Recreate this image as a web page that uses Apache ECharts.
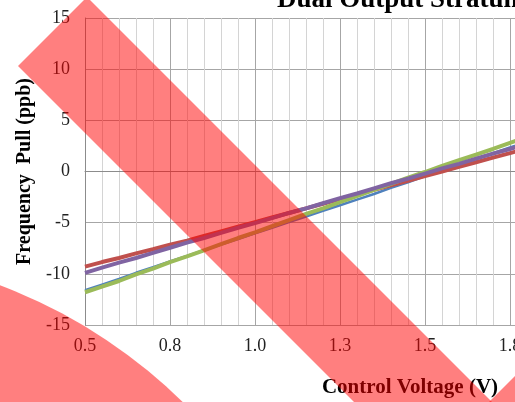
<!DOCTYPE html>
<html lang="en" style="height: 100%">
<head>
  <meta charset="utf-8">
</head>
<body style="height: 100%; margin: 0">
  <div id="container" style="width: 515px; height: 402px"></div>

  <script type="text/javascript" src="https://cdn.jsdelivr.net/npm/echarts@6/dist/echarts.min.js"></script>

  <script type="text/javascript">
    var dom = document.getElementById('container');
    var myChart = echarts.init(dom, null, { renderer: 'canvas' });

// control voltage steps (V)
const volts = [0.5, 0.55, 0.6, 0.65, 0.7, 0.75, 0.8, 0.85, 0.9, 0.95, 1.0, 1.05, 1.1,
  1.15, 1.2, 1.25, 1.3, 1.35, 1.4, 1.45, 1.5, 1.55, 1.6, 1.65, 1.7, 1.75, 1.8];
// frequency pull (ppb), one list per output
const pullBlue = [-11.6, -11.05, -10.5, -9.9, -9.35, -8.8, -8.25, -7.7, -7.15, -6.6, -6.05, -5.5, -4.95,
  -4.4, -3.85, -3.3, -2.75, -2.2, -1.6, -1.05, -0.45, 0.1, 0.7, 1.25, 1.8, 2.35, 2.9];
const pullRed = [-9.3, -8.85, -8.45, -8.0, -7.6, -7.15, -6.75, -6.3, -5.85, -5.4, -4.95, -4.5, -4.05,
  -3.6, -3.15, -2.7, -2.25, -1.8, -1.35, -0.9, -0.45, 0.0, 0.45, 0.9, 1.35, 1.8, 2.25];
const pullGreen = [-11.8, -11.25, -10.7, -10.05, -9.5, -8.85, -8.3, -7.7, -7.1, -6.5, -5.95, -5.35, -4.75,
  -4.15, -3.6, -3.0, -2.4, -1.8, -1.2, -0.6, -0.05, 0.55, 1.1, 1.65, 2.2, 2.8, 3.35];
const pullPurple = [-9.9, -9.4, -8.9, -8.45, -7.95, -7.45, -6.95, -6.5, -6.0, -5.5, -5.05, -4.55, -4.05,
  -3.6, -3.1, -2.6, -2.15, -1.65, -1.15, -0.7, -0.2, 0.3, 0.75, 1.25, 1.75, 2.2, 2.7];

const pairs = (ys) => volts.map((v, i) => [v, ys[i]]);
const serif = 'Liberation Serif';
const lineSeries = (name, ys, color, width) => ({
  name,
  type: 'line',
  data: pairs(ys),
  showSymbol: false,
  lineStyle: { color, width },
  itemStyle: { color }
});

const veil = 'rgba(255, 0, 0, 0.5)';

const option = {
  backgroundColor: '#fff',
  animation: false,
  title: {
    text: 'Dual Output Stratum 3E OCXO',
    left: 272,
    top: -18,
    textStyle: { fontFamily: serif, fontWeight: 'bold', fontSize: 27, color: '#000' }
  },
  // plot runs past the right edge of the window, as in the cropped original
  grid: { left: 85, top: 18, width: 680, height: 307, outerBoundsMode: 'none', containLabel: false },
  xAxis: {
    type: 'value',
    min: 0.5,
    max: 2.5,
    interval: 0.25,
    name: 'Control Voltage (V)',
    nameLocation: 'middle',
    nameGap: 52,
    nameTextStyle: {
      fontFamily: serif, fontWeight: 'bold', fontSize: 21, color: '#000',
      padding: [0, 30, 0, 0]
    },
    axisLine: { lineStyle: { color: '#8c8c8c', width: 1 } },
    axisTick: { show: false },
    axisLabel: {
      margin: 12,
      fontFamily: serif, fontSize: 18, color: '#222',
      formatter: (v) => v.toFixed(1)
    },
    splitLine: { show: true, lineStyle: { color: '#a6a6a6', width: 1 } },
    minorTick: { show: false, splitNumber: 5 },
    minorSplitLine: { show: true, lineStyle: { color: '#d4d4d4', width: 1 } }
  },
  yAxis: {
    type: 'value',
    min: -15,
    max: 15,
    interval: 5,
    name: 'Frequency  Pull (ppb)',
    nameLocation: 'middle',
    nameGap: 50,
    nameRotate: 90,
    nameTextStyle: { fontFamily: serif, fontWeight: 'bold', fontSize: 20, color: '#000' },
    axisLine: { show: true, lineStyle: { color: '#8c8c8c', width: 1 } },
    axisTick: { show: false },
    axisLabel: { margin: 15, fontFamily: serif, fontSize: 18, color: '#222' },
    splitLine: { show: true, lineStyle: { color: '#a6a6a6', width: 1 } }
  },
  series: [
    lineSeries('Blue', pullBlue, '#4F81BD', 2.5),
    lineSeries('Red', pullRed, '#C0504D', 4),
    lineSeries('Green', pullGreen, '#9BBB59', 4),
    lineSeries('Purple', pullPurple, '#8064A2', 4)
  ],
  graphic: [
    {
      type: 'polygon', z: 100, silent: true,
      shape: { points: [[18, 66], [87, -3], [592, 502], [454, 502]] },
      style: { fill: veil }
    },
    {
      type: 'polygon', z: 100, silent: true,
      shape: { points: [[489, 402], [532, 359], [532, 410], [489, 410]] },
      style: { fill: veil }
    },
    {
      type: 'circle', z: 100, silent: true,
      shape: { cx: -187, cy: 779, r: 528 },
      style: { fill: veil }
    }
  ]
};

myChart.setOption(option);
window.addEventListener('resize', myChart.resize);
  </script>
</body>
</html>
